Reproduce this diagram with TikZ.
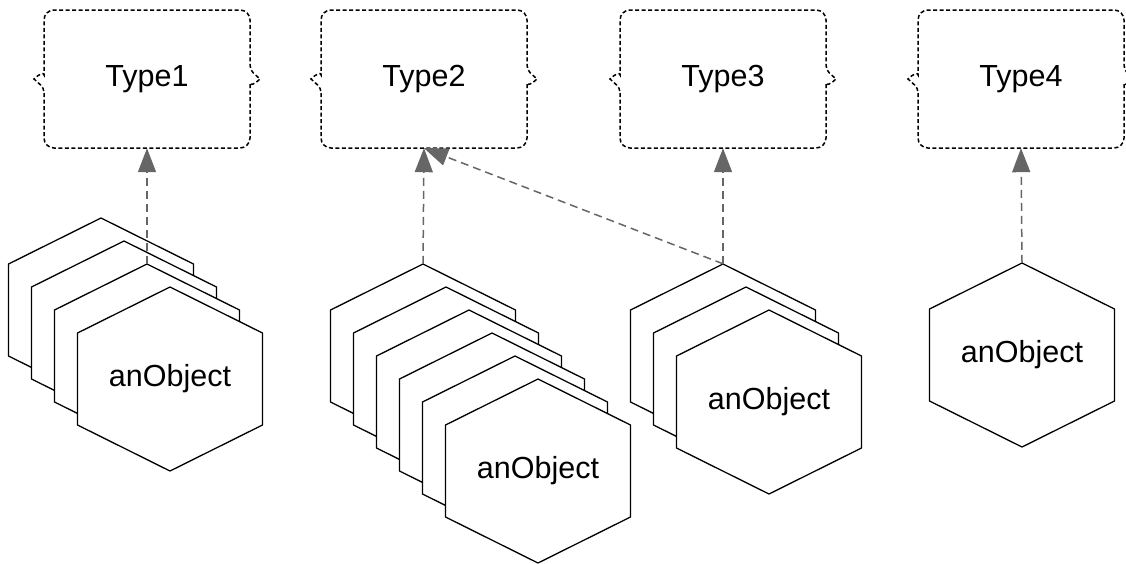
\documentclass[tikz,border=0pt]{standalone}
\usepackage{fontspec}
\setmainfont{Liberation Sans}
\usetikzlibrary{arrows.meta}
\definecolor{linkgray}{HTML}{666666}
\tikzset{
  hexbox/.style={draw=black, fill=white, line width=1.3pt, line join=miter},
  hexnode/.style={minimum width=185pt, minimum height=184pt, inner sep=0pt, font=\fontsize{30.5}{36}\selectfont},
  typenode/.style={minimum width=206pt, minimum height=138pt, inner sep=0pt, font=\fontsize{30.5}{36}\selectfont},
  typebox/.style={draw=black, line width=1.5pt, dash pattern=on 4pt off 2.5pt},
  realize/.style={draw=linkgray, line width=1.5pt, dash pattern=on 8pt off 5pt, -{Triangle[length=24pt,width=18pt,fill=linkgray]}}
}
\newcommand{\hexat}[2]{\path[hexbox] (#1,#2-92) -- (#1+92.5,#2-46) -- (#1+92.5,#2+46) -- (#1,#2+92) -- (#1-92.5,#2+46) -- (#1-92.5,#2-46) -- cycle;}
\newcommand{\typeframe}[1]{%
  \draw[typebox, rounded corners=10pt] (#1-103,93) -- (#1-103,148) -- (#1+103,148) -- (#1+103,93)
    [sharp corners] .. controls (#1+103,86) and (#1+108,84) .. (#1+113,79)
    .. controls (#1+108,74) and (#1+103,72) .. (#1+103,65)
    [rounded corners=10pt] -- (#1+103,10) -- (#1-103,10) -- (#1-103,65)
    [sharp corners] .. controls (#1-103,72) and (#1-108,74) .. (#1-113,79)
    .. controls (#1-108,84) and (#1-103,86) .. (#1-103,93);}
\begin{document}
\begin{tikzpicture}[x=1pt, y=-1pt]
\useasboundingbox (0,0) rectangle (1126,563);
% type frames
\typeframe{147}
\typeframe{424}
\typeframe{723}
\typeframe{1021}
\node[typenode] (t1) at (147,79) {Type1};
\node[typenode] (t2) at (424,79) {Type2};
\node[typenode] (t3) at (723,79) {Type3};
\node[typenode] (t4) at (1021,79) {Type4};
% stack 1
\hexat{101}{310}\hexat{124}{333}\hexat{147}{356}\hexat{170}{379}
% stack 2
\hexat{423}{356}\hexat{446}{379}\hexat{469}{402}\hexat{492}{425}\hexat{515}{448}\hexat{538}{471}
% stack 3
\hexat{723}{356}\hexat{746}{379}\hexat{769}{402}
% stack 4
\hexat{1022}{355}
% nodes
\node[hexnode] (a3) at (147,356) {};
\node[hexnode] (a4) at (170,379) {anObject};
\node[hexnode] (b1) at (423,356) {};
\node[hexnode] (b6) at (538,471) {anObject};
\node[hexnode] (c1) at (723,356) {};
\node[hexnode] (c3) at (769,402) {anObject};
\node[hexnode] (d1) at (1022,355) {anObject};
% connectors
\draw[realize] (a3.north) -- (t1.south);
\draw[realize] (b1.north) -- (t2.south);
\draw[realize] (c1.north) -- (t3.south);
\draw[realize] (c1.north) -- (t2.south);
\draw[realize] (d1.north) -- (t4.south);
\end{tikzpicture}
\end{document}
